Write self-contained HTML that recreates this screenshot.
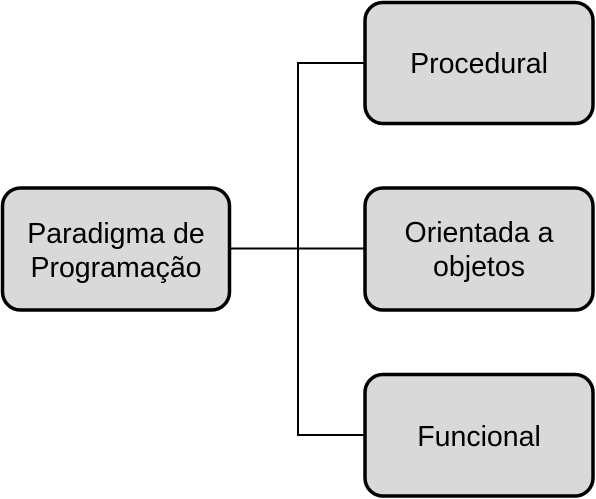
<!DOCTYPE html>
<html><head><meta charset="utf-8"><style>
html,body{margin:0;padding:0;background:#fff;width:596px;height:499px;overflow:hidden}
</style></head><body>
<svg width="596" height="499" viewBox="0 0 596 499" xmlns="http://www.w3.org/2000/svg">
<g fill="none" stroke="#000" stroke-width="2">
<line x1="230" y1="248.5" x2="365" y2="248.5"/>
<polyline points="365,63 298,63 298,435 365,435"/>
</g>
<g fill="#d9d9d9" stroke="#000" stroke-width="3.5">
<rect x="2.5" y="188" width="227" height="122" rx="18"/>
<rect x="365" y="2.5" width="228" height="121" rx="18"/>
<rect x="365" y="188" width="228" height="122" rx="18"/>
<rect x="365" y="374.5" width="228" height="121.5" rx="18"/>
</g>
<g font-family="Liberation Sans, Arial, sans-serif" font-size="28.5" fill="#000" text-anchor="middle">
<text x="116" y="243">Paradigma de</text>
<text x="116" y="277">Programação</text>
<text x="479" y="73">Procedural</text>
<text x="479" y="242">Orientada a</text>
<text x="479" y="276">objetos</text>
<text x="479" y="446">Funcional</text>
</g>
</svg>
</body></html>
